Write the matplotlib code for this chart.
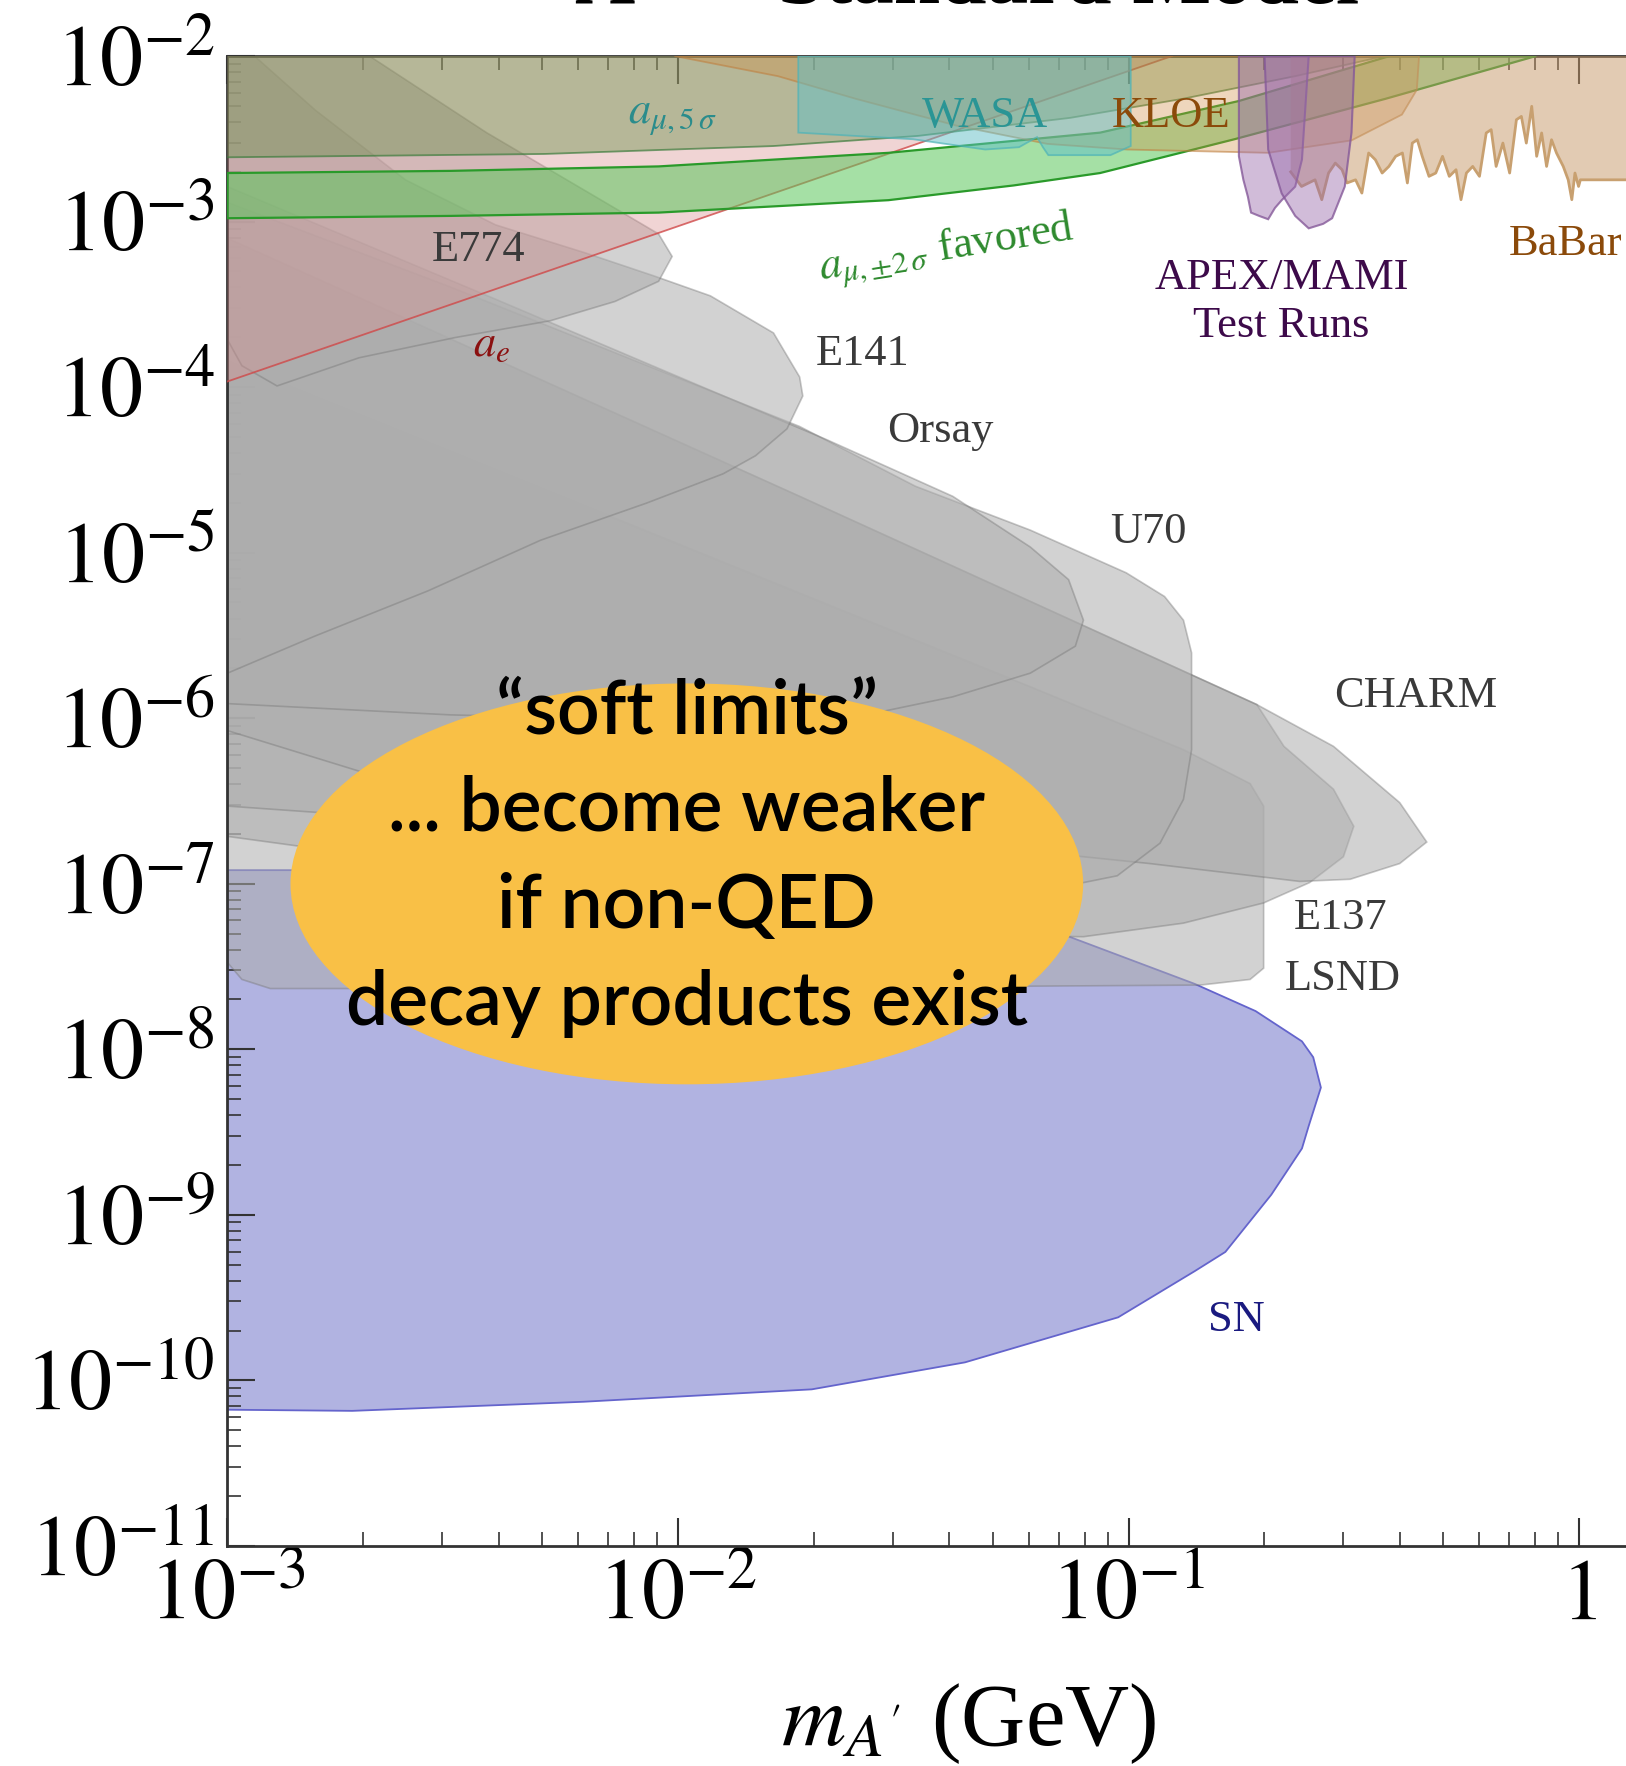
import numpy as np
import matplotlib.pyplot as plt
from matplotlib.patches import Ellipse
from matplotlib.ticker import LogLocator, NullFormatter

plt.rcParams['mathtext.fontset'] = 'stix'
plt.rcParams['font.family'] = ['Liberation Serif', 'DejaVu Serif']

# contours: log10(m_A' / GeV), log10(epsilon)
sn_m = [-3.0, -1.755, -1.38, -1.158, -0.853, -0.718, -0.615, -0.59, -0.573, -0.60, -0.615, -0.683, -0.785,
        -0.853, -1.023, -1.193, -1.363, -1.703, -2.21, -2.723, -3.0]
sn_eps = [-6.918, -6.918, -7.068, -7.293, -7.605, -7.769, -7.952, -8.048, -8.231, -8.463, -8.599, -8.878, -9.224,
          -9.340, -9.619, -9.755, -9.891, -10.054, -10.129, -10.184, -10.177]

e774_m = [-3.0, -2.685, -2.425, -2.170, -2.043, -2.013, -2.043, -2.140, -2.283, -2.495, -2.708, -2.890, -2.968, -3.0]
e774_eps = [-2.0, -2.0, -2.463, -2.871, -3.075, -3.211, -3.361, -3.483, -3.599, -3.701, -3.823, -3.993, -3.871, -3.714]

e141_m = [-3.0, -2.940, -2.805, -2.605, -2.405, -2.205, -2.055, -1.928, -1.788, -1.730, -1.723, -1.758, -1.828, -1.900, -2.070, -2.305, -2.555, -2.805, -3.0]
e141_eps = [-2.0, -2.0, -2.327, -2.748, -3.020, -3.190, -3.327, -3.449, -3.673, -3.939, -4.054, -4.252, -4.415, -4.524, -4.701, -4.925, -5.231, -5.503, -5.728]

orsay_m = [-3.0, -2.405, -1.668, -1.390, -1.218, -1.133, -1.100, -1.118, -1.218, -1.390, -1.558, -2.005, -2.505, -3.0]
orsay_eps = [-2.789, -3.469, -4.320, -4.660, -4.966, -5.163, -5.408, -5.565, -5.728, -5.871, -5.966, -6.014, -5.980, -5.912]

u70_m = [-3.0, -2.505, -2.005, -1.730, -1.473, -1.218, -1.005, -0.920, -0.878, -0.860, -0.860, -0.878, -0.930, -1.025, -1.175, -1.505, -2.005, -2.505, -3.0]
u70_eps = [-2.884, -3.395, -3.939, -4.238, -4.599, -4.864, -5.122, -5.265, -5.408, -5.605, -6.190, -6.490, -6.755, -6.952, -7.034, -7.000, -6.830, -6.490, -6.075]

charm_m = [-3.0, -1.730, -0.715, -0.545, -0.398, -0.338, -0.398, -0.508, -0.620, -0.953, -1.175, -1.755, -2.505, -3.0]
charm_eps = [-3.102, -4.660, -5.918, -6.170, -6.510, -6.748, -6.878, -6.973, -6.986, -6.878, -6.816, -6.728, -6.626, -6.531]

e137_m = [-3.0, -1.730, -0.715, -0.655, -0.545, -0.500, -0.523, -0.598, -0.700, -0.878, -1.100, -1.505, -2.005, -2.505, -3.0]
e137_eps = [-3.102, -4.660, -5.918, -6.170, -6.429, -6.653, -6.837, -6.993, -7.116, -7.238, -7.320, -7.306, -7.102, -6.898, -6.714]

lsnd_m = [-3.0, -1.730, -1.218, -0.878, -0.730, -0.700, -0.700, -0.730, -0.840, -2.005, -2.905, -2.968, -3.0]
lsnd_eps = [-3.844, -5.245, -5.810, -6.190, -6.395, -6.531, -7.510, -7.578, -7.612, -7.633, -7.633, -7.578, -7.476]

ae_m = [-3.0, -0.903]
ae_eps = [-3.966, -2.0]

mu5_m = [-3.0, -2.298, -1.788, -1.468, -1.130, -0.880, -0.630, -0.430]
mu5_eps = [-2.612, -2.592, -2.544, -2.483, -2.374, -2.259, -2.122, -2.0]

band_up_m = [-3.0, -2.505, -2.043, -1.533, -1.063, -0.755, -0.420]
band_up_eps = [-2.707, -2.694, -2.667, -2.585, -2.463, -2.272, -2.0]
band_lo_m = [-3.0, -2.505, -2.043, -1.533, -1.255, -1.063, -0.765, -0.430, -0.095]
band_lo_eps = [-2.980, -2.966, -2.946, -2.871, -2.782, -2.707, -2.503, -2.259, -2.0]

kloe_m = [-2.008, -1.778, -1.605, -1.380, -1.180, -1.003, -0.690, -0.505, -0.393, -0.360, -0.355]
kloe_eps = [-2.0, -2.122, -2.259, -2.422, -2.531, -2.565, -2.585, -2.510, -2.354, -2.204, -2.0]

wasa_m = [-1.733, -1.733, -1.478, -1.318, -1.243, -1.203, -1.190, -1.178, -1.040, -0.995, -0.995]
wasa_eps = [-2.0, -2.463, -2.503, -2.565, -2.551, -2.490, -2.551, -2.599, -2.599, -2.544, -2.0]

mami_m = [-0.755, -0.755, -0.745, -0.735, -0.728, -0.710, -0.690, -0.675, -0.660, -0.630, -0.615, -0.600]
mami_eps = [-2.0, -2.605, -2.748, -2.850, -2.946, -2.966, -2.986, -2.918, -2.871, -2.789, -2.626, -2.0]

apex_m = [-0.698, -0.690, -0.660, -0.630, -0.600, -0.568, -0.548, -0.520, -0.505, -0.498]
apex_eps = [-2.0, -2.565, -2.830, -2.966, -3.041, -3.014, -2.980, -2.789, -2.463, -2.0]

babar_m = [-0.640, -0.616, -0.586, -0.571, -0.556, -0.541, -0.526, -0.515, -0.496, -0.482, -0.467, -0.452,
           -0.437, -0.422, -0.407, -0.392, -0.381, -0.370, -0.359, -0.348, -0.333, -0.318, -0.303, -0.288,
           -0.273, -0.262, -0.250, -0.236, -0.221, -0.206, -0.195, -0.184, -0.169, -0.154, -0.139, -0.128,
           -0.117, -0.105, -0.094, -0.083, -0.072, -0.061, -0.050, -0.035, -0.024, -0.016, -0.009, -0.001,
           0.003, 0.14]
babar_eps = [-2.70, -2.788, -2.748, -2.868, -2.707, -2.647, -2.687, -2.767, -2.748, -2.828, -2.586, -2.627,
             -2.707, -2.667, -2.606, -2.586, -2.767, -2.526, -2.506, -2.606, -2.727, -2.707, -2.606, -2.727,
             -2.687, -2.868, -2.707, -2.667, -2.727, -2.465, -2.445, -2.667, -2.526, -2.707, -2.385, -2.365,
             -2.526, -2.304, -2.606, -2.465, -2.667, -2.506, -2.586, -2.667, -2.748, -2.868, -2.707, -2.788,
             -2.748, -2.748]

labels = ['E774', 'E141', 'Orsay', 'U70', 'CHARM', 'E137', 'LSND', 'SN', 'WASA', 'KLOE', 'BaBar',
          'APEX/MAMI', 'Test Runs', r'$a_e$', r'$a_{\mu,5\,\sigma}$']
label_m = [-2.443, -1.59, -1.418, -0.955, -0.363, -0.53, -0.525, -0.76, -1.318, -0.905, -0.03,
           -0.66, -0.66, -2.413, -2.013]
label_eps = [-3.170, -3.803, -4.265, -4.878, -5.864, -7.204, -7.578, -9.633, -2.361, -2.361, -3.136,
             -3.340, -3.633, -3.748, -2.367]
label_colors = ['#3a3a3a'] * 7 + ['#1a1a80', '#2a9595', '#8b4a0a', '#8b4a0a', '#3d0a4a', '#3d0a4a',
                                  '#8b1010', '#2a8c8c']

fig = plt.figure(figsize=(16.26, 17.66), dpi=100)
ax = fig.add_axes([0.1399, 0.1246, 0.87, 0.8437])
ax.set_xscale('log')
ax.set_yscale('log')
ax.set_xlim(1e-3, 10 ** 0.14)
ax.set_ylim(1e-11, 1e-2)


def p(v):
    return 10.0 ** np.array(v)


gray_face = (0.68, 0.68, 0.68, 0.55)
gray_edge = (0.45, 0.45, 0.45, 0.4)

ax.fill(p(sn_m), p(sn_eps), facecolor='#b1b3e1', edgecolor='#6464cc', lw=1.3, zorder=1)
for m, e in [(lsnd_m, lsnd_eps), (e137_m, e137_eps), (charm_m, charm_eps), (u70_m, u70_eps),
             (orsay_m, orsay_eps), (e141_m, e141_eps), (e774_m, e774_eps)]:
    ax.fill(p(m), p(e), facecolor=gray_face, edgecolor=gray_edge, lw=1.2, zorder=2)

# a_e
ax.fill_between(p(ae_m), p(ae_eps), 1.0, facecolor=(0.85, 0.56, 0.56, 0.38), edgecolor='none', zorder=3)
ax.plot(p(ae_m), p(ae_eps), color='#d04848', lw=1.3, alpha=0.8, zorder=3)

# a_mu 5 sigma
ax.fill_between(p(mu5_m), p(mu5_eps), 1.0, facecolor=(0.40, 0.56, 0.28, 0.42), edgecolor='none', zorder=4)
ax.plot(p(mu5_m), p(mu5_eps), color='#3c7c3c', lw=1.3, alpha=0.7, zorder=4)

# a_mu +-2 sigma band
bx = np.concatenate([p(band_up_m), p(band_lo_m)[::-1]])
by = np.concatenate([p(band_up_eps), p(band_lo_eps)[::-1]])
ax.fill(bx, by, facecolor=(0.36, 0.78, 0.36, 0.55), edgecolor='#2a9a2a', lw=1.6, zorder=5)

ax.fill(p(kloe_m), p(kloe_eps), facecolor=(0.82, 0.55, 0.25, 0.35), edgecolor=(0.75, 0.5, 0.25, 0.6),
        lw=1.3, zorder=6)
ax.fill_between(p(babar_m), p(babar_eps), 1.0, facecolor=(0.78, 0.60, 0.41, 0.5), edgecolor='none', zorder=6)
ax.plot(p(babar_m), p(babar_eps), color='#c8a070', lw=2, zorder=6)
ax.fill(p(wasa_m), p(wasa_eps), facecolor=(0.38, 0.75, 0.78, 0.5), edgecolor=(0.3, 0.7, 0.72, 0.7),
        lw=1.3, zorder=7)
for m, e in [(mami_m, mami_eps), (apex_m, apex_eps)]:
    ax.fill(p(m), p(e), facecolor=(0.60, 0.42, 0.67, 0.45), edgecolor=(0.52, 0.35, 0.60, 0.8),
            lw=1.5, zorder=8)

for t, m, e, c in zip(labels, label_m, label_eps, label_colors):
    ax.text(10 ** m, 10 ** e, t, ha='center', va='center', fontsize=32, color=c, zorder=10)
ax.text(10 ** -1.405, 10 ** -3.17, r'$a_{\mu,{\pm}2\,\sigma}$ favored', ha='center', va='center',
        fontsize=32, color='#2e8a2e', rotation=9, zorder=10)

# axes styling
ax.set_xticks([1e-3, 1e-2, 1e-1, 1])
ax.set_xticklabels([r'$10^{-3}$', r'$10^{-2}$', r'$10^{-1}$', r'$1$'])
ax.set_yticks([10.0 ** k for k in range(-11, -1)])
ax.set_yticklabels([r'$10^{%d}$' % k for k in range(-11, -1)])
ax.xaxis.set_minor_locator(LogLocator(base=10, subs=np.arange(2, 10), numticks=50))
ax.yaxis.set_minor_locator(LogLocator(base=10, subs=np.arange(2, 10), numticks=100))
ax.xaxis.set_minor_formatter(NullFormatter())
ax.yaxis.set_minor_formatter(NullFormatter())
ax.tick_params(which='both', direction='in', top=True, right=False, color='#333333')
ax.tick_params(which='major', length=20, width=1.5, labelsize=62, pad=9)
ax.tick_params(which='minor', length=10, width=1.2)
for s in ax.spines.values():
    s.set_color('#333333')
    s.set_linewidth(2)

fig.text(0.5955, 0.012, r"$m_{A'}$ (GeV)", fontsize=64, ha='center', va='baseline')
fig.text(0.3536, 0.9985, 'A\u2032  \u2192', fontsize=60, fontweight='bold', ha='left', va='baseline')
fig.text(0.4785, 0.9985, 'Standard Model', fontsize=60, fontweight='bold', ha='left', va='baseline')

# annotation bubble
ell = Ellipse((0.4224, 0.4995), 0.4875, 0.2270, transform=fig.transFigure, facecolor='#f9c046',
              edgecolor='none', zorder=20)
ax.add_patch(ell)
bubble = ['\u201csoft limits\u201d', '... become weaker', 'if non-QED', 'decay products exist']
for i, line in enumerate(bubble):
    fig.text(0.4224, 0.5844 - i * 0.0549, line, fontsize=54, family='Lato', fontweight='semibold',
             ha='center', va='baseline', color='black', zorder=21)

fig.savefig('out.png', dpi=100)
